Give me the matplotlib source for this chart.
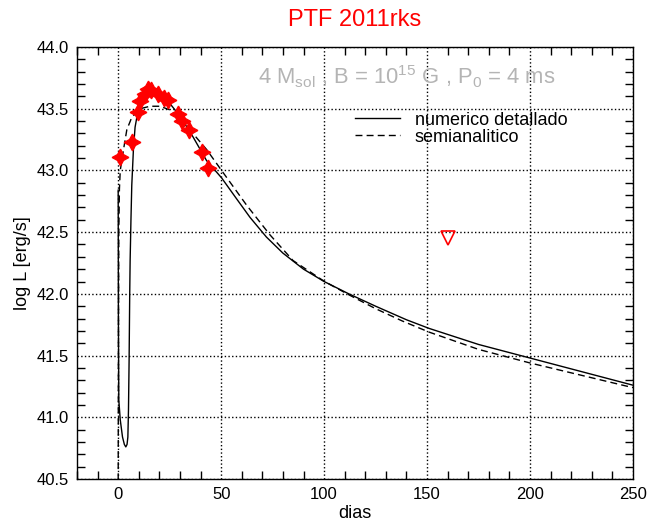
import matplotlib
matplotlib.use("Agg")
import matplotlib.pyplot as plt
from matplotlib.ticker import MultipleLocator, FormatStrFormatter

plt.rcParams['font.family'] = ['Liberation Sans', 'DejaVu Sans']
plt.rcParams['mathtext.fontset'] = 'custom'
plt.rcParams['mathtext.rm'] = 'Liberation Sans'
plt.rcParams['mathtext.it'] = 'Liberation Sans'

# numerico detallado (solid)
t_num = [0, 0.1, 0.3, 1.0, 2.1, 3.0, 3.7, 4.3, 4.7, 5.0, 5.3, 5.6, 5.8, 6.2, 6.6, 7.4,
         8.2, 9.8, 11.5, 13.1, 16.3, 20.3, 25.2, 30, 36.4, 42.9, 50.2, 57.5, 64, 72,
         80, 90, 100, 112, 125, 140, 151, 175, 200, 225, 250]
L_num = [42.84, 41.8, 41.14, 40.98, 40.84, 40.78, 40.76, 40.78, 40.84, 41.06, 41.46, 42.0,
         42.27, 42.6, 42.88, 43.17, 43.35, 43.5, 43.56, 43.59, 43.61, 43.60, 43.54, 43.44,
         43.27, 43.08, 42.94, 42.77, 42.62, 42.46, 42.33, 42.2, 42.1, 42.0, 41.90, 41.79,
         41.72, 41.59, 41.48, 41.37, 41.26]

# semianalitico (dashed)
t_sem = [0, 0.1, 0.3, 0.6, 1.0, 2.6, 4.2, 6.6, 10.6, 15.5, 20.3, 25.2, 33.2, 42.9, 50.2,
         62.3, 73.6, 84.9, 100.2, 112.3, 125, 138, 151, 175, 200, 225, 250]
L_sem = [40.4, 41.5, 42.5, 42.85, 43.0, 43.17, 43.33, 43.43, 43.5, 43.52, 43.52, 43.49,
         43.36, 43.17, 43.0, 42.72, 42.48, 42.27, 42.1, 41.99, 41.88, 41.78, 41.69, 41.55,
         41.44, 41.34, 41.24]

# observed data (red stars)
t_obs = [1.1, 6.6, 9.4, 10.6, 13.1, 14.7, 15.8, 19.2, 22.4, 24.0, 29.2, 30.8, 34.4, 40.8, 43.4]
L_obs = [43.11, 43.23, 43.47, 43.56, 43.62, 43.66, 43.65, 43.62, 43.59, 43.57, 43.46,
         43.40, 43.33, 43.15, 43.02]

# upper limit (triangle)
t_lim = [160]
L_lim = [42.45]

fig = plt.figure(figsize=(6.51, 5.25), dpi=100)
ax = fig.add_axes([77/651, 1-479/525, (633-77)/651, (479-47)/525])

ax.plot(t_num, L_num, color='black', lw=1.0, label='numerico detallado')
ax.plot(t_sem, L_sem, color='black', lw=1.0, ls=(0, (5, 3)), label='semianalitico')
ax.plot(t_obs, L_obs, ls='none', marker=(4, 1, 0), ms=12, color='red', mec='red')
ax.plot(t_lim, L_lim, ls='none', marker='v', ms=10, mfc='none', mec='red', mew=1.2)

ax.set_xlim(-20, 250)
ax.set_ylim(40.5, 44.0)

ax.xaxis.set_major_locator(MultipleLocator(50))
ax.xaxis.set_minor_locator(MultipleLocator(10))
ax.yaxis.set_major_locator(MultipleLocator(0.5))
ax.yaxis.set_minor_locator(MultipleLocator(0.1))
ax.yaxis.set_major_formatter(FormatStrFormatter('%.1f'))
ax.tick_params(which='both', direction='in', top=True, right=True, labelsize=12)
ax.tick_params(which='major', length=0, pad=6)
ax.tick_params(which='minor', length=6, width=1)
ax.grid(True, which='major', ls=':', color='black', lw=1.0)

for s in ax.spines.values():
    s.set_linewidth(1.0)

ax.set_xlabel('dias', fontsize=13, labelpad=2)
ax.set_ylabel('log L [erg/s]', fontsize=13, labelpad=4)
fig.text(355/651, 1-20/525, 'PTF 2011rks', color='red', fontsize=17, ha='center', va='center')

ax.text((258-77)/556, 0.93, r'4 M$_{\rm sol}$ , B = 10$^{15}$ G , P$_0$ = 4 ms',
        transform=ax.transAxes, color='#b4b4b4', fontsize=15.8, ha='left', va='center')

leg = ax.legend(loc='upper left', bbox_to_anchor=((355-77)/556, 0.85), frameon=False,
                fontsize=13, handlelength=2.5, handletextpad=0.8, labelspacing=0.0,
                borderaxespad=0, borderpad=0)

fig.savefig('out.png', dpi=100)
